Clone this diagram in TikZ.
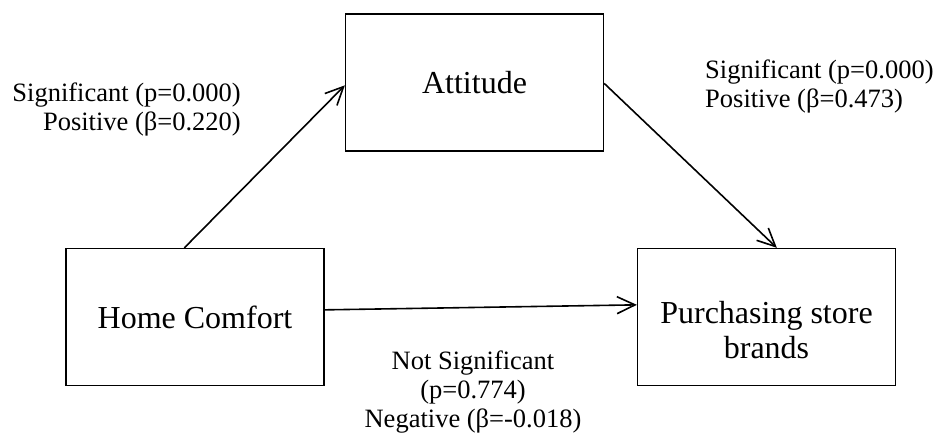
\documentclass[tikz,border=0pt]{standalone}
\usepackage{fontspec}
\setmainfont{Liberation Serif}
\usetikzlibrary{arrows.meta}
\begin{document}
\begin{tikzpicture}[x=1pt,y=-1pt,
  box/.style={draw=black,line width=1.3pt,minimum width=258pt,minimum height=137pt,inner sep=0pt,align=center,font=\fontsize{32}{35}\selectfont},
  lbl/.style={inner sep=0pt,font=\fontsize{26.5}{29}\selectfont},
  conn/.style={line width=1.6pt,-{Straight Barb[length=18pt,width=17pt,line width=1.6pt]}}]
\useasboundingbox (0,0) rectangle (939,436);
\node[box] (home) at (195,317) {Home Comfort};
\node[box] (att) at (474.5,82.5) {Attitude};
\node[box] (buy) at (766.5,317) {\raisebox{-23pt}[0pt][0pt]{\begin{tabular}{@{}c@{}}Purchasing store\\brands\end{tabular}}};
\draw[conn] ([xshift=119pt]home.north west) -- ([yshift=-72pt]att.north west);
\draw[conn] ([yshift=-70pt]att.north east) -- ([xshift=140pt]buy.north west);
\draw[conn] ([yshift=-62pt]home.north east) -- ([yshift=-57pt]buy.north west);
\node[lbl,align=right,anchor=east] (l1) at (241,109) {Significant (p=0.000)\\Positive (β=0.220)};
\node[lbl,align=left,anchor=west] (l2) at (705,86) {Significant (p=0.000)\\Positive (β=0.473)};
\node[lbl,align=center] (l3) at (473,392) {Not Significant\\(p=0.774)\\Negative (β=-0.018)};
\end{tikzpicture}
\end{document}
